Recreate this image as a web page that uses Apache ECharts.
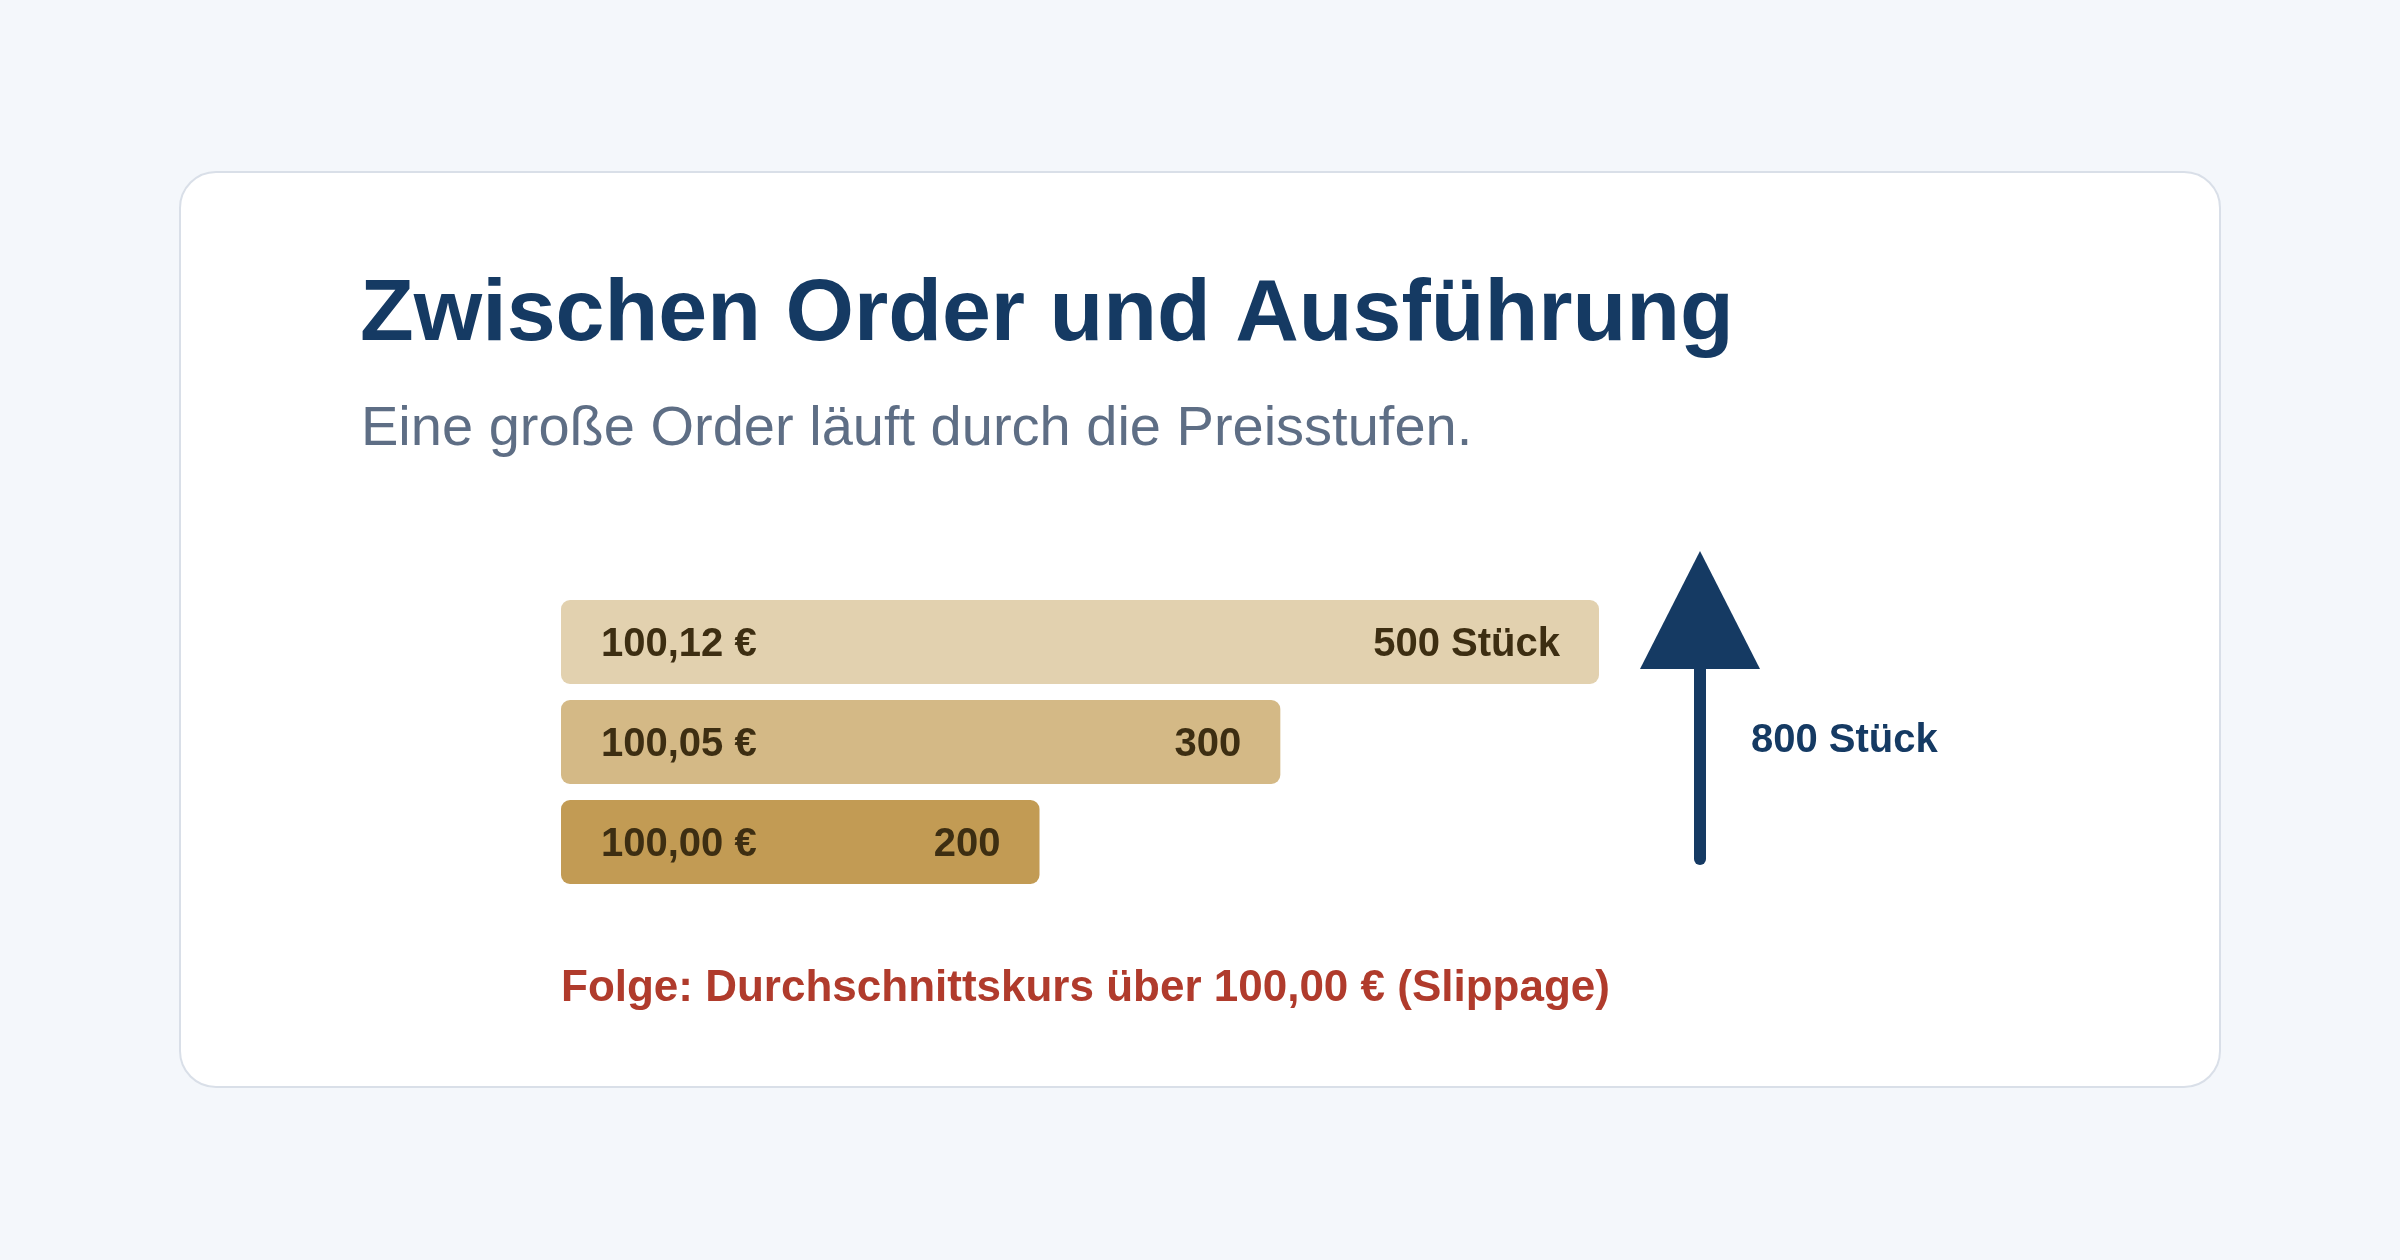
<!DOCTYPE html>
<html>
<head>
<meta charset="utf-8">
<style>
  html, body { margin: 0; padding: 0; background: #f4f7fb; }
  #chart { width: 2400px; height: 1260px; }
</style>
<script src="https://cdn.jsdelivr.net/npm/echarts@6/dist/echarts.min.js"></script>
</head>
<body>
<div id="chart"></div>
<script>
// ---- data ----
const priceLevels = ['100,12 €', '100,05 €', '100,00 €'];   // top to bottom
const quantities  = [500, 300, 200];                         // Stück per level
const barLength   = [100, 69.3, 46.1];                       // displayed depth (% of largest level)
const orderSize   = 800;                                     // size of the incoming order (Stück)
const barColors   = ['#e2d1af', '#d4b986', '#c29b54'];
const unit = 'Stück';
const titleText = 'Zwischen Order und Ausführung';
const subtitleText = 'Eine große Order läuft durch die Preisstufen.';
const footerText = 'Folge: Durchschnittskurs über 100,00 € (Slippage)';

const FONT = '"Liberation Sans", Arial, Helvetica, sans-serif';
const labelColor = '#3d2e12';
const navy = '#153a63';

const chart = echarts.init(document.getElementById('chart'), null, { renderer: 'canvas' });

const option = {
  backgroundColor: '#f4f7fb',
  animation: false,
  grid: { left: 561, right: 801, top: 592, height: 300, containLabel: false },
  xAxis: { type: 'value', min: 0, max: 100, show: false },
  yAxis: {
    type: 'category', data: priceLevels, inverse: true, show: false
  },
  graphic: [
    {
      type: 'rect', z: -10, silent: true,
      shape: { x: 180, y: 172, width: 2040, height: 915, r: 36 },
      style: { fill: '#ffffff', stroke: '#d9dfe8', lineWidth: 2 }
    },
    {
      type: 'text', left: 360, top: 316 - 44, silent: true,
      style: { text: titleText, font: 'bold 88px ' + FONT, fill: navy }
    },
    {
      type: 'text', left: 361, top: 430 - 28, silent: true,
      style: { text: subtitleText, font: '56px ' + FONT, fill: '#5e6e85' }
    },
    {
      type: 'text', left: 561, top: 989 - 22, silent: true,
      style: { text: footerText, font: 'bold 44px ' + FONT, fill: '#b03b2c' }
    },
    // order-size arrow annotation
    {
      type: 'line', silent: true,
      shape: { x1: 1700, y1: 660, x2: 1700, y2: 859 },
      style: { stroke: navy, lineWidth: 12, lineCap: 'round' }
    },
    {
      type: 'polygon', silent: true,
      shape: { points: [[1700, 551], [1760, 669], [1640, 669]] },
      style: { fill: navy }
    },
    {
      type: 'text', left: 1751, top: 741 - 20, silent: true,
      style: { text: orderSize + ' ' + unit, font: 'bold 40px ' + FONT, fill: navy }
    }
  ],
  series: [
    {
      type: 'bar',
      barWidth: 84,
      barGap: '-100%',
      data: barLength.map((v, i) => ({
        value: v,
        itemStyle: { color: barColors[i], borderRadius: 9 }
      })),
      label: {
        show: true, position: 'insideLeft', distance: 40, offset: [0, 3],
        formatter: (p) => priceLevels[p.dataIndex],
        color: labelColor, fontFamily: FONT, fontWeight: 'bold', fontSize: 40
      },
      silent: true
    },
    {
      type: 'bar',
      barWidth: 84,
      barGap: '-100%',
      data: barLength.map((v) => ({ value: v, itemStyle: { color: 'rgba(0,0,0,0)' } })),
      label: {
        show: true, position: 'insideRight', distance: 39, offset: [0, 3],
        formatter: (p) => p.dataIndex === 0 ? quantities[p.dataIndex] + ' ' + unit : String(quantities[p.dataIndex]),
        color: labelColor, fontFamily: FONT, fontWeight: 'bold', fontSize: 40
      },
      silent: true
    }
  ]
};
chart.setOption(option);
</script>
</body>
</html>
